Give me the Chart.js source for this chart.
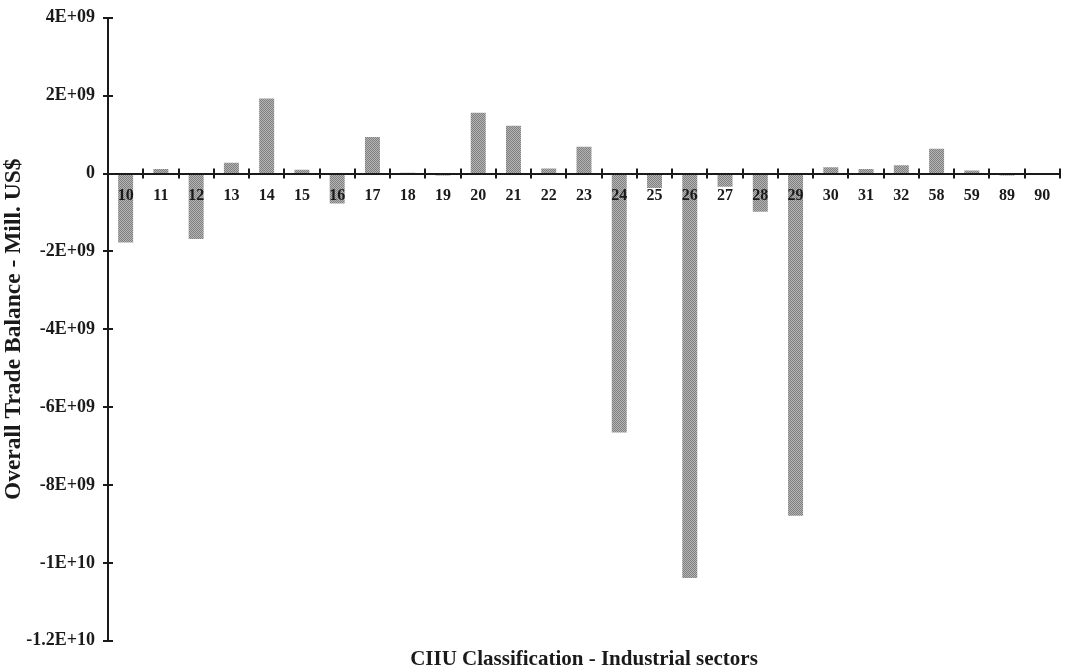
<!DOCTYPE html>
<html>
<head>
<meta charset="utf-8">
<script src="https://cdn.jsdelivr.net/npm/chart.js@4/dist/chart.umd.min.js"></script>
<style>
  html, body { margin: 0; padding: 0; background: #fff; }
  #wrap { width: 1068px; height: 672px; }
</style>
</head>
<body>
<div id="wrap"><canvas id="Chart1"></canvas></div>
<script>
var sectors = ['10', '11', '12', '13', '14', '15', '16', '17', '18', '19', '20', '21', '22', '23',
  '24', '25', '26', '27', '28', '29', '30', '31', '32', '58', '59', '89', '90'];
var balance = [-1.77e9, 0.12e9, -1.68e9, 0.28e9, 1.93e9, 0.10e9, -0.77e9, 0.94e9, 0.02e9, -0.05e9,
  1.56e9, 1.23e9, 0.13e9, 0.69e9, -6.65e9, -0.37e9, -10.39e9, -0.34e9, -0.98e9, -8.79e9,
  0.16e9, 0.12e9, 0.21e9, 0.64e9, 0.08e9, -0.05e9, 0];
var yTicks = [4e9, 2e9, 0, -2e9, -4e9, -6e9, -8e9, -1e10, -1.2e10];

var serif = '"Liberation Serif", "Times New Roman", serif';
var ink = '#1a1a1a';

// Excel style "4E+09"
const sciLabel = (v) => {
  if (v === 0) return '0';
  var e = Math.floor(Math.log10(Math.abs(v)) + 1e-9);
  var m = Math.round(v / Math.pow(10, e) * 10) / 10;
  return m + 'E+' + String(e).padStart(2, '0');
};

// grey dotted fill like the original
const makePattern = () => {
  var c = document.createElement('canvas');
  c.width = 2; c.height = 2;
  var g = c.getContext('2d');
  g.fillStyle = '#b4b4b4';
  g.fillRect(0, 0, 2, 2);
  g.fillStyle = '#808080';
  g.fillRect(0, 0, 1, 1);
  g.fillRect(1, 1, 1, 1);
  return g.createPattern(c, 'repeat');
};

// tick marks that cross the axis lines on both sides
const crossTicks = {
  id: 'crossTicks',
  afterDatasetsDraw(chart) {
    var c = chart.ctx, x = chart.scales.x, y = chart.scales.y;
    var zero = y.getPixelForValue(0);
    c.save();
    c.strokeStyle = ink;
    c.lineWidth = 2;
    c.beginPath();
    var n = x.ticks.length;
    for (var i = 1; i <= n; i++) {
      var px = Math.round(x.left + i * x.width / n);
      c.moveTo(px, zero - 5);
      c.lineTo(px, zero + 5);
    }
    yTicks.forEach(v => {
      var py = Math.round(y.getPixelForValue(v));
      c.moveTo(x.left - 5, py);
      c.lineTo(x.left + 5, py);
    });
    c.stroke();
    c.restore();
  }
};

const createChart1 = () => {
  var ctx = document.getElementById('Chart1');
  new Chart(ctx, {
    type: 'bar',
    data: {
      labels: sectors,
      datasets: [{
        label: 'Overall Trade Balance',
        data: balance,
        backgroundColor: makePattern(),
        borderWidth: 0,
        barPercentage: 0.425,
        categoryPercentage: 1
      }]
    },
    plugins: [crossTicks],
    options: {
      responsive: true,
      maintainAspectRatio: false,
      animation: false,
      layout: { padding: { top: 13, right: 8, bottom: 0, left: 0 } },
      plugins: {
        legend: { display: false },
        tooltip: { enabled: false },
        title: {
          display: true,
          position: 'bottom',
          fullSize: false,
          text: 'CIIU Classification - Industrial sectors',
          color: ink,
          font: { family: serif, size: 21, weight: 'bold' },
          padding: { top: 6, bottom: 0 }
        }
      },
      scales: {
        x: {
          position: { y: 0 },
          offset: true,
          grid: {
            drawOnChartArea: false,
            drawTicks: false,
            offset: true
          },
          border: { color: ink, width: 2, z: 1 },
          ticks: {
            z: 1,
            color: ink,
            padding: 13,
            maxRotation: 0,
            autoSkip: false,
            font: { family: serif, size: 16, weight: 'bold' }
          }
        },
        y: {
          min: -1.2e10,
          max: 4e9,
          afterBuildTicks: (s) => { s.ticks = yTicks.map(v => ({ value: v })); },
          afterFit: (s) => { s.width = 108; },
          grid: {
            drawOnChartArea: false,
            drawTicks: true,
            tickLength: 6,
            tickColor: 'rgba(0,0,0,0)'
          },
          border: { color: ink, width: 2 },
          title: {
            display: true,
            text: 'Overall Trade Balance - Mill. US$',
            color: ink,
            font: { family: serif, size: 23.5, weight: 'bold' },
            padding: { top: 0, bottom: 0 }
          },
          ticks: {
            color: ink,
            padding: 7,
            callback: (v) => sciLabel(v),
            font: { family: serif, size: 18, weight: 'bold' }
          }
        }
      }
    }
  });
};

createChart1();
</script>
</body>
</html>
